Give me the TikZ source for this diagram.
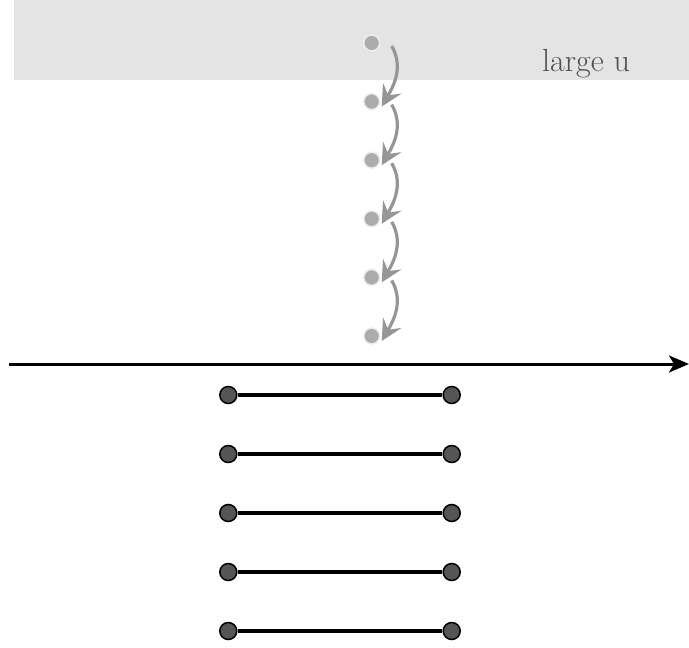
\documentclass[tikz,border=0pt]{standalone}
\usetikzlibrary{arrows.meta}
\definecolor{bandgray}{RGB}{228,228,228}
\definecolor{dotgray}{RGB}{172,172,172}
\definecolor{ringgray}{RGB}{238,238,238}
\definecolor{arrgray}{RGB}{150,150,150}
\definecolor{segfill}{RGB}{85,85,85}
\definecolor{txtgray}{RGB}{80,80,80}
\tikzset{
  graydot/.style={circle,fill=dotgray,draw=ringgray,line width=1.5pt,minimum size=16pt,inner sep=0pt},
  blackdot/.style={circle,fill=segfill,draw=black,line width=1.5pt,minimum size=17pt,inner sep=0pt},
  hoparrow/.style={draw=arrgray,line width=3.2pt,-{Stealth[length=21pt,width=21pt,inset=8pt]}},
  segline/.style={line width=4pt,black},
  axisline/.style={line width=3pt,black,-{Stealth[length=20pt,width=17pt,inset=5pt]}}
}
\begin{document}
\begin{tikzpicture}[x=1pt,y=-1pt]
\useasboundingbox (0,0) rectangle (689,648);
\fill[bandgray] (14,0) rectangle (689,80);
\node[txtgray,font=\fontsize{32}{38}\selectfont,anchor=base] (lbl) at (586,71.7) {large u};
% axis
\coordinate (axL) at (9,364);
\coordinate (axR) at (689,364);
\draw[axisline] (axL) -- (axR);
% gray dots
\foreach \i/\y in {0/43,1/101.6,2/160.2,3/218.8,4/277.4,5/336}{
  \node[graydot] (g\i) at (371.7,\y) {};
}
% hop arrows
\foreach \i [evaluate=\i as \j using int(\i+1)] in {0,...,4}{
  \draw[hoparrow] ([xshift=20pt,yshift=-3pt]g\i.center) to[out=-60,in=60] ([xshift=10pt,yshift=-5pt]g\j.center);
}
% segments
\foreach \i/\y in {1/395,2/454,3/513,4/572,5/631}{
  \node[blackdot] (a\i) at (228.3,\y) {};
  \node[blackdot] (b\i) at (451.7,\y) {};
  \draw[segline] (a\i) -- (b\i);
}
\end{tikzpicture}
\end{document}
